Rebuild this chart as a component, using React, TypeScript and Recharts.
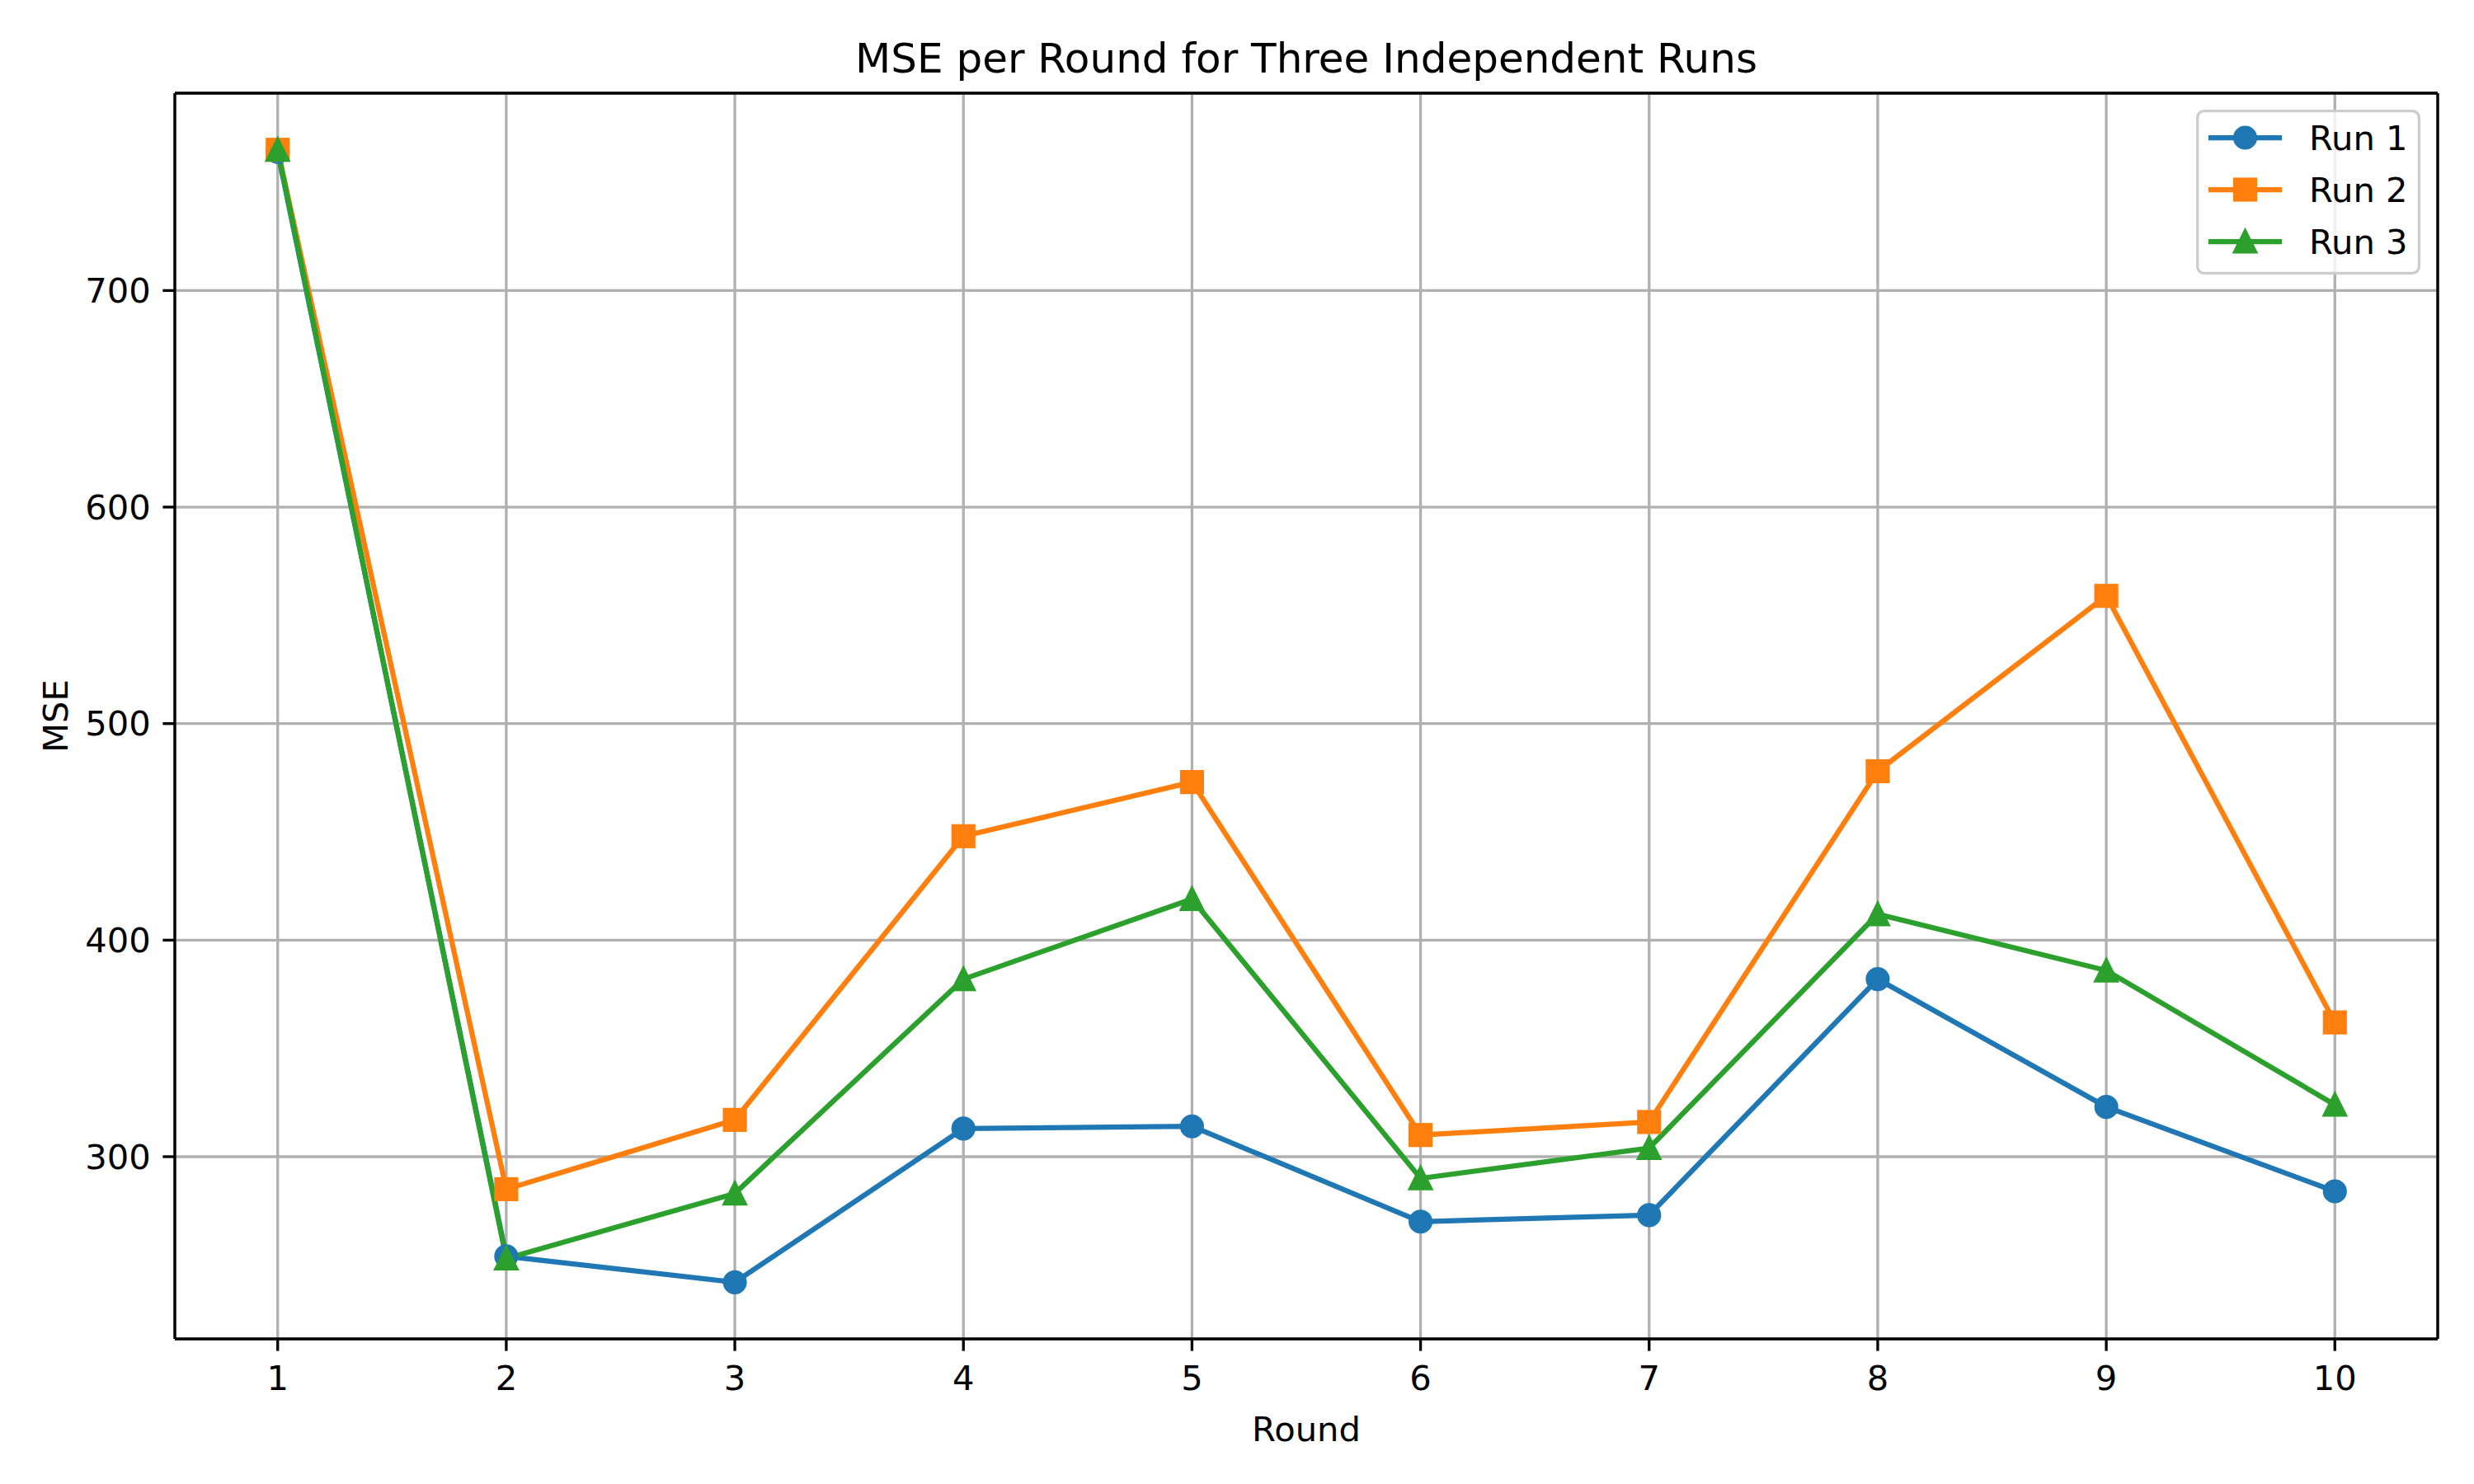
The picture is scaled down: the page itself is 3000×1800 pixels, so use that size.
import React from "react";
import {
  LineChart,
  Line,
  XAxis,
  YAxis,
  CartesianGrid,
  Legend,
} from "recharts";

const rounds = [1, 2, 3, 4, 5, 6, 7, 8, 9, 10];
const run1 = [764, 254, 242, 313, 314, 270, 273, 382, 323, 284];
const run2 = [765, 285, 317, 448, 473, 310, 316, 478, 559, 362];
const run3 = [765, 253, 283, 382, 419, 290, 304, 412, 386, 324];
const yTicks = [300, 400, 500, 600, 700];
const seriesNames = ["Run 1", "Run 2", "Run 3"];

const C1 = "#1f77b4";
const C2 = "#ff7f0e";
const C3 = "#2ca02c";
const FONT = "DejaVu Sans";
const PT = 300 / 72; // px per point at 300 dpi

const data = rounds.map((r, i) => ({
  round: r,
  run1: run1[i],
  run2: run2[i],
  run3: run3[i],
}));

// matplotlib-style 5% margins
const allY = [...run1, ...run2, ...run3];
const yMin = Math.min(...allY);
const yMax = Math.max(...allY);
const yPad = (yMax - yMin) * 0.05;
const yDomain: [number, number] = [yMin - yPad, yMax + yPad];
const xPad = (rounds[rounds.length - 1] - rounds[0]) * 0.05;
const xDomain: [number, number] = [rounds[0] - xPad, rounds[rounds.length - 1] + xPad];

const MS = 6 * PT; // marker size
const MEW = 1 * PT; // marker edge width

function circleMarker(cx: number, cy: number, color: string, key?: string) {
  return (
    <circle key={key} cx={cx} cy={cy} r={MS / 2} fill={color} stroke={color} strokeWidth={MEW} />
  );
}
function squareMarker(cx: number, cy: number, color: string, key?: string) {
  return (
    <rect
      key={key}
      x={cx - MS / 2}
      y={cy - MS / 2}
      width={MS}
      height={MS}
      fill={color}
      stroke={color}
      strokeWidth={MEW}
    />
  );
}
function triangleMarker(cx: number, cy: number, color: string, key?: string) {
  const h = MS / 2;
  return (
    <polygon
      key={key}
      points={`${cx},${cy - h} ${cx - h},${cy + h} ${cx + h},${cy + h}`}
      fill={color}
      stroke={color}
      strokeWidth={MEW}
      strokeLinejoin="miter"
    />
  );
}

const markers = [circleMarker, squareMarker, triangleMarker];
const colors = [C1, C2, C3];

function LegendBox() {
  const rows = [34, 97, 160];
  return (
    <svg width={272} height={200} style={{ display: "block" }}>
      <rect
        x={1.65}
        y={1.65}
        width={268.7}
        height={196.7}
        rx={8}
        ry={8}
        fill="#ffffff"
        fillOpacity={0.8}
        stroke="#cccccc"
        strokeWidth={3.3}
      />
      {seriesNames.map((name, i) => (
        <g key={name}>
          <line
            x1={15}
            x2={104}
            y1={rows[i]}
            y2={rows[i]}
            stroke={colors[i]}
            strokeWidth={1.5 * PT}
          />
          {markers[i](59.5, rows[i], colors[i])}
          <text
            x={137}
            y={rows[i]}
            dy="0.36em"
            fontSize={10 * PT}
            fontFamily={FONT}
            fill="#000"
          >
            {name}
          </text>
        </g>
      ))}
    </svg>
  );
}

export default function App() {
  const tickStyle = { fontSize: 10 * PT, fill: "#000", fontFamily: FONT };
  const axisStroke = { stroke: "#000", strokeWidth: 0.8 * PT };

  return (
    <div
      style={{
        position: "absolute",
        left: 0,
        top: 0,
        width: 3000,
        height: 1800,
        background: "#ffffff",
      }}
    >
      <LineChart
        width={3000}
        height={1800}
        data={data}
        margin={{ top: 112, right: 43, bottom: 0, left: 0 }}
      >
        <CartesianGrid stroke="#b0b0b0" strokeWidth={0.8 * PT} />
        <XAxis
          dataKey="round"
          type="number"
          domain={xDomain}
          ticks={rounds}
          allowDataOverflow
          height={176}
          tick={tickStyle}
          tickSize={3.5 * PT}
          tickMargin={18}
          tickLine={axisStroke}
          axisLine={axisStroke}
          label={{
            value: "Round",
            position: "insideBottom",
            offset: 52,
            fontSize: 10 * PT,
            fill: "#000",
            fontFamily: FONT,
          }}
        />
        <XAxis
          xAxisId="top"
          orientation="top"
          type="number"
          domain={xDomain}
          allowDataOverflow
          height={1}
          tick={false}
          tickLine={false}
          axisLine={axisStroke}
          label={{
            value: "MSE per Round for Three Independent Runs",
            position: "top",
            offset: 24,
            fontSize: 12 * PT,
            fill: "#000",
            fontFamily: FONT,
          }}
        />
        <YAxis
          type="number"
          domain={yDomain}
          ticks={yTicks}
          allowDataOverflow
          width={212}
          tick={tickStyle}
          tickSize={3.5 * PT}
          tickMargin={3.5 * PT}
          tickLine={axisStroke}
          axisLine={axisStroke}
          label={{
            value: "MSE",
            content: (props: any) => {
              const vb = props.viewBox || { x: 0, y: 113, height: 1511 };
              const cy = vb.y + vb.height / 2;
              return (
                <text
                  x={82}
                  y={cy}
                  transform={`rotate(-90 82 ${cy})`}
                  textAnchor="middle"
                  fontSize={10 * PT}
                  fontFamily={FONT}
                  fill="#000"
                >
                  MSE
                </text>
              );
            },
          }}
        />
        <YAxis
          yAxisId="right"
          orientation="right"
          type="number"
          domain={yDomain}
          allowDataOverflow
          width={1}
          tick={false}
          tickLine={false}
          axisLine={axisStroke}
        />
        <Legend
          layout="vertical"
          align="center"
          verticalAlign="middle"
          wrapperStyle={{ position: "absolute", left: 2663, top: 133, width: 272, height: 200 }}
          content={() => <LegendBox />}
        />
        <Line
          type="linear"
          dataKey="run1"
          name="Run 1"
          stroke={C1}
          strokeWidth={1.5 * PT}
          isAnimationActive={false}
          activeDot={false}
          dot={(p: any) => circleMarker(p.cx, p.cy, C1, `d1-${p.index}`)}
        />
        <Line
          type="linear"
          dataKey="run2"
          name="Run 2"
          stroke={C2}
          strokeWidth={1.5 * PT}
          isAnimationActive={false}
          activeDot={false}
          dot={(p: any) => squareMarker(p.cx, p.cy, C2, `d2-${p.index}`)}
        />
        <Line
          type="linear"
          dataKey="run3"
          name="Run 3"
          stroke={C3}
          strokeWidth={1.5 * PT}
          isAnimationActive={false}
          activeDot={false}
          dot={(p: any) => triangleMarker(p.cx, p.cy, C3, `d3-${p.index}`)}
        />
      </LineChart>
    </div>
  );
}
